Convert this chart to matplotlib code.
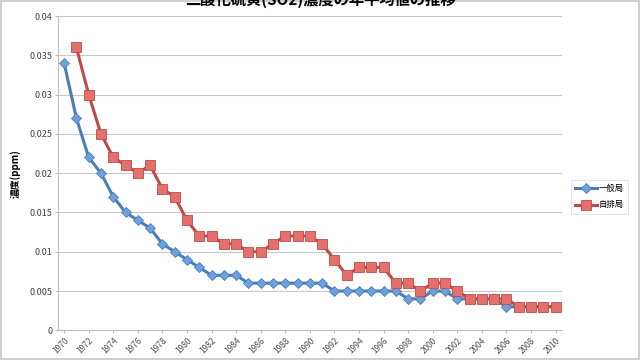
import matplotlib
matplotlib.use("Agg")
from matplotlib import pyplot as plt
from matplotlib.patches import Rectangle

plt.rcParams['font.family'] = ['Noto Sans CJK JP', 'DejaVu Sans']

years_general = list(range(1970, 2011))
general = [0.034, 0.027, 0.022, 0.020, 0.017, 0.015, 0.014, 0.013, 0.011, 0.010,
           0.009, 0.008, 0.007, 0.007, 0.007, 0.006, 0.006, 0.006, 0.006, 0.006,
           0.006, 0.006, 0.005, 0.005, 0.005, 0.005, 0.005, 0.005, 0.004, 0.004,
           0.005, 0.005, 0.004, 0.004, 0.004, 0.004, 0.003, 0.003, 0.003, 0.003,
           0.003]

years_roadside = list(range(1971, 2011))
roadside = [0.036, 0.030, 0.025, 0.022, 0.021, 0.020, 0.021, 0.018, 0.017,
            0.014, 0.012, 0.012, 0.011, 0.011, 0.010, 0.010, 0.011, 0.012, 0.012,
            0.012, 0.011, 0.009, 0.007, 0.008, 0.008, 0.008, 0.006, 0.006, 0.005,
            0.006, 0.006, 0.005, 0.004, 0.004, 0.004, 0.004, 0.003, 0.003, 0.003,
            0.003]

series_labels = ['一般局', '自排局']
y_ticks = [0, 0.005, 0.01, 0.015, 0.02, 0.025, 0.03, 0.035, 0.04]
x_ticks = list(range(1970, 2011, 2))
title = '二酸化硫黄(SO2)濃度の年平均値の推移'

fig = plt.figure(figsize=(6.4, 3.6), dpi=100)
ax = fig.add_axes([0.0906, 0.0825, 0.787, 0.873])

ax.plot(years_general, general, color='#4a7ebb', lw=2.2, marker='D', ms=5,
        mfc='#6fa0dc', mec='#4a7ebb', mew=0.6, label=series_labels[0], zorder=3)
ax.plot(years_roadside, roadside, color='#be4b48', lw=2.2, marker='s', ms=6.5,
        mfc='#e4706d', mec='#be4b48', mew=0.6, label=series_labels[1], zorder=3)

ax.set_xlim(1969.5, 2010.5)
ax.set_ylim(0, 0.04)
ax.set_yticks(y_ticks)
ax.set_yticklabels(['0'] + [f'{v:g}' for v in y_ticks[1:]], fontsize=6.5, color='#404040')
ax.set_xticks(x_ticks)
ax.set_xticklabels([str(y) for y in x_ticks], rotation=45, ha='right',
                   rotation_mode='anchor', fontsize=6, color='#505050')
ax.tick_params(axis='both', length=2, color='#bfbfbf', pad=2)
ax.grid(axis='y', color='#c8c8c8', lw=0.8)
ax.set_axisbelow(True)
for side in ['top', 'right']:
    ax.spines[side].set_visible(False)
for side in ['left', 'bottom']:
    ax.spines[side].set_color('#bfbfbf')

ax.set_ylabel('濃度(ppm)', fontsize=7, fontweight='bold', labelpad=6)

leg = ax.legend(loc='center left', bbox_to_anchor=(1.018, 0.425), fontsize=6,
                frameon=True, fancybox=False, edgecolor='#d9d9d9',
                handlelength=2.6, handletextpad=0.2, borderpad=0.5,
                borderaxespad=0, labelspacing=0.9)
leg.get_frame().set_linewidth(0.6)

fig.text(0.5, 1.0, title, ha='center', va='center', fontsize=11, fontweight='bold')

fig.patches.append(Rectangle((0.002, 0.002), 0.996, 0.996, transform=fig.transFigure,
                             fill=False, edgecolor='#d0d0d0', lw=1.5))

fig.savefig('out.png', dpi=100)
